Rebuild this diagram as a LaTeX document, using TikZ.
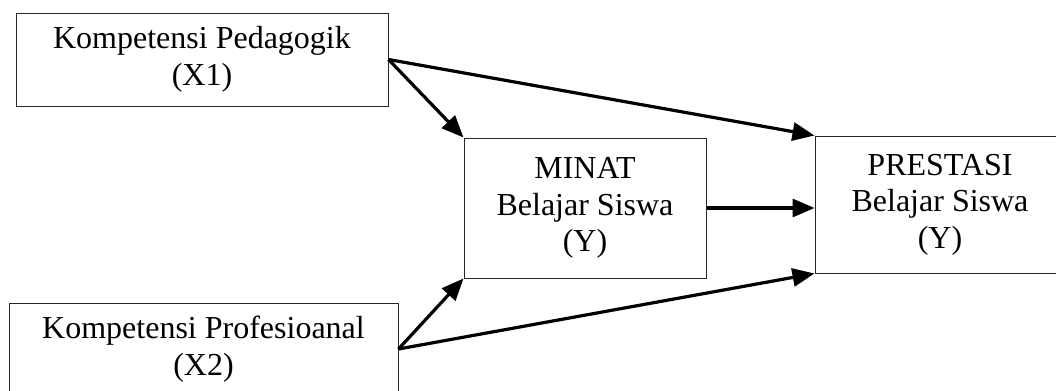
\documentclass[tikz,border=0pt]{standalone}
\usepackage{fontspec}
\setmainfont{Liberation Serif}
\usetikzlibrary{arrows.meta, positioning}

\begin{document}
\begin{tikzpicture}[
  x=0.5pt, y=-0.5pt,
  var/.style={draw=black!85, line width=0.5pt, align=center,
    font=\fontsize{16}{18.3}\selectfont, inner sep=0pt},
  path/.style={line width=1.6pt, -{Triangle[length=11pt,width=9pt]}}]

  \useasboundingbox (0,0) rectangle (1056,391);

  \node[var, minimum width=186pt, minimum height=46.5pt] (ped) at (202,59.5)
    {Kompetensi Pedagogik\\(X1)};
  \node[var, minimum width=194.5pt, minimum height=46pt] (prof) at (203.5,349)
    {Kompetensi Profesioanal\\(X2)};
  \node[var, minimum width=121pt, minimum height=70pt] (minat) at (585,208)
    {MINAT\\Belajar Siswa\\(Y)};
  \node[var, minimum width=125pt, minimum height=68.5pt] (pres) at (940,204.5)
    {PRESTASI\\Belajar Siswa\\(Y)};

  % jalur dari X1
  \draw[path] (ped.east) -- (minat.north west);
  \draw[path] (ped.east) -- (pres.north west);
  % jalur dari X2
  \draw[path] (prof.east) -- (minat.south west);
  \draw[path] (prof.east) -- (pres.south west);
  % minat ke prestasi
  \draw[path] (minat.east) -- (pres.west |- minat.east);
\end{tikzpicture}
\end{document}
